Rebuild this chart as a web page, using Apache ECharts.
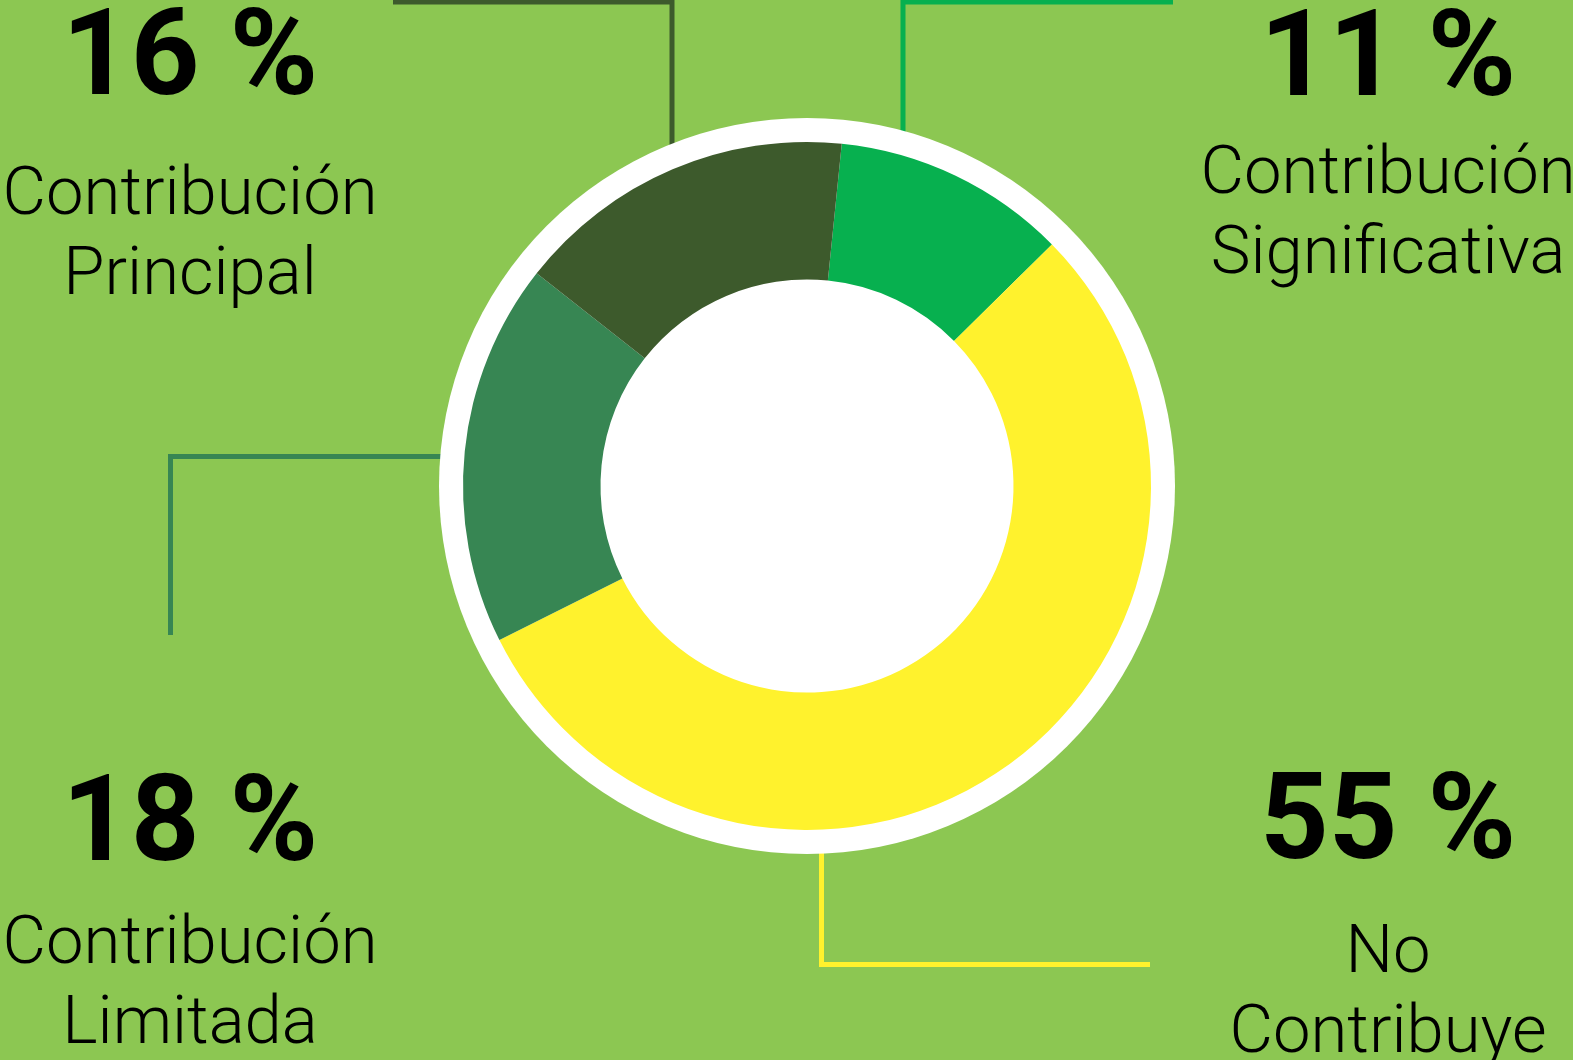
<!DOCTYPE html>
<html>
<head>
<meta charset="utf-8">
<script src="https://cdn.jsdelivr.net/npm/echarts@6/dist/echarts.min.js"></script>
<style>
  html, body { margin: 0; padding: 0; background: #8cc752; }
  #chart { width: 1573px; height: 1060px; }
</style>
</head>
<body>
<div id="chart"></div>
<script>
// datos del gráfico
const categorias = ['Contribución\nSignificativa', 'No\nContribuye', 'Contribución\nLimitada', 'Contribución\nPrincipal']
const valores = [11, 55, 18, 16]
const colores = ['#07b04f', '#fff22d', '#378653', '#3d5a2c']

const chart = echarts.init(document.getElementById('chart'))

const cx = 807, cy = 486

// texto de porcentaje + nombre para cada sector
function etiqueta(i, x, yPct, yNom) {
  return [
    {
      type: 'text', x: x, y: yPct, silent: true,
      style: {
        text: valores[i] + ' %', fill: '#000',
        font: 'bold 120px Roboto', align: 'center', verticalAlign: 'middle'
      }
    },
    {
      type: 'text', x: x, y: yNom, silent: true,
      style: {
        text: categorias[i], fill: '#000',
        font: '300 67px Roboto', lineHeight: 80,
        align: 'center', verticalAlign: 'middle'
      }
    }
  ]
}

function linea(i, pts) {
  return {
    type: 'polyline', silent: true, z: -1,
    shape: { points: pts },
    style: { stroke: colores[i], lineWidth: 5, fill: null }
  }
}

chart.setOption({
  backgroundColor: '#8cc752',
  animation: false,
  series: [
    {
      // disco blanco de fondo
      type: 'pie',
      silent: true,
      center: [cx, cy],
      radius: [0, 368],
      label: { show: false },
      itemStyle: { color: '#ffffff' },
      data: [{ value: 1 }],
      z: 1
    },
    {
      type: 'pie',
      silent: true,
      center: [cx, cy],
      radius: [206.5, 344],
      startAngle: 84.2,
      clockwise: true,
      label: { show: false },
      labelLine: { show: false },
      data: valores.map((v, i) => ({
        name: categorias[i],
        value: v,
        itemStyle: { color: colores[i] }
      })),
      z: 2
    }
  ],
  graphic: [
    linea(3, [[393, 2], [672, 2], [672, 150]]),
    linea(0, [[1173, 2], [903, 2], [903, 140]]),
    linea(2, [[445, 456.5], [170.5, 456.5], [170.5, 635]]),
    linea(1, [[821.5, 845], [821.5, 964.5], [1150, 964.5]]),
    ...etiqueta(3, 190, 64, 237),
    ...etiqueta(0, 1388, 64.5, 216),
    ...etiqueta(2, 190, 830, 986),
    ...etiqueta(1, 1388, 828, 995)
  ]
})

window.onresize = function () {
  chart.resize()
}
</script>
</body>
</html>
